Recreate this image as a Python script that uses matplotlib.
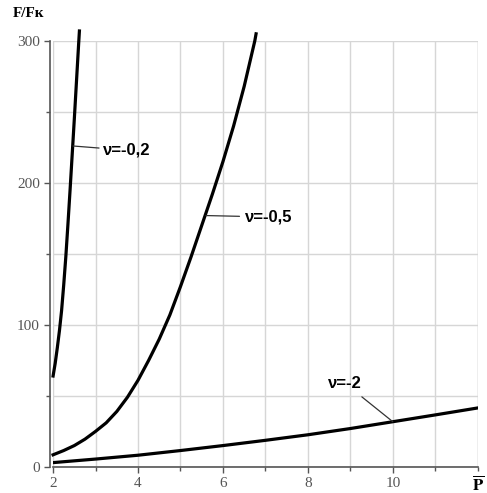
import numpy as np
import matplotlib
matplotlib.use('Agg')
import matplotlib.pyplot as plt
from matplotlib.ticker import MultipleLocator

# values
p_02 = [2.0, 2.05, 2.1, 2.15, 2.2, 2.25, 2.3, 2.35, 2.4, 2.45, 2.5, 2.55, 2.6, 2.62]
f_02 = [64, 73, 84, 96, 110, 128, 148, 171, 195, 220, 245, 271, 297, 307]

p_05 = [2.0, 2.25, 2.5, 2.75, 3.0, 3.25, 3.5, 3.75, 4.0, 4.25, 4.5, 4.75,
        5.0, 5.25, 5.5, 5.75, 6.0, 6.25, 6.5, 6.75, 6.78]
f_05 = [8.5, 11.5, 15, 19.5, 25, 31, 39, 49, 61, 75, 90, 107,
        127, 148, 170, 192, 215, 240, 268, 300, 305]

p_2 = [2, 3, 4, 5, 6, 7, 8, 9, 10, 11, 12]
f_2 = [3, 5.5, 8.2, 11.5, 15, 18.7, 22.6, 27, 31.8, 36.6, 41.5]

xticks = [2, 4, 6, 8, 10]
yticks = [0, 100, 200, 300]

plt.rcParams['font.family'] = ['Liberation Serif', 'DejaVu Serif']
plt.rcParams['mathtext.fontset'] = 'stix'

fig = plt.figure(figsize=(4.87, 4.93), dpi=100)
ax = fig.add_axes([0.109, 0.053, 0.872, 0.864])

ax.set_xlim(2, 12)
ax.set_ylim(0, 300)
ax.xaxis.set_minor_locator(MultipleLocator(1))
ax.yaxis.set_minor_locator(MultipleLocator(50))
ax.set_xticks(xticks)
ax.set_yticks(yticks)
ax.grid(True, which='both', color='#d6d6d6', linewidth=1.0)
ax.set_axisbelow(True)
ax.axvline(12, color='#c8c8c8', linewidth=1.0, zorder=0)

for s in ['top', 'right']:
    ax.spines[s].set_visible(False)
for s in ['left', 'bottom']:
    ax.spines[s].set_color('#555555')
    ax.spines[s].set_linewidth(1.2)
ax.spines['left'].set_position(('outward', 2))

ax.tick_params(which='both', direction='out', color='#555555', labelcolor='#555555',
               labelsize=11, length=4, width=1)
ax.tick_params(which='minor', length=3)

ax.plot(p_02, f_02, color='black', linewidth=2.3, clip_on=False, zorder=3)
ax.plot(p_05, f_05, color='black', linewidth=2.3, clip_on=False, zorder=3)
ax.plot(p_2, f_2, color='black', linewidth=2.3, zorder=3)

lab = dict(fontsize=12, fontweight='bold', family=['Liberation Sans', 'DejaVu Sans'],
           va='center', ha='left')
ax.annotate('ν=-0,2', xy=(2.47, 226), xytext=(3.18, 223), **lab,
            arrowprops=dict(arrowstyle='-', color='#333333', lw=0.9, shrinkA=1, shrinkB=0))
ax.annotate('ν=-0,5', xy=(5.6, 177), xytext=(6.52, 176), **lab,
            arrowprops=dict(arrowstyle='-', color='#333333', lw=0.9, shrinkA=2, shrinkB=0))
ax.annotate('ν=-2', xy=(10, 31.8), xytext=(8.47, 59), **lab,
            arrowprops=dict(arrowstyle='-', color='#333333', lw=0.9, shrinkA=4, shrinkB=0))

fig.text(0.027, 0.972, 'F/Fк', fontsize=11, fontweight='bold', va='center', ha='left')
fig.text(0.982, 0.017, r'$\overline{\mathbf{P}}$', fontsize=12, va='center', ha='center')

fig.savefig('out.png', dpi=100)
